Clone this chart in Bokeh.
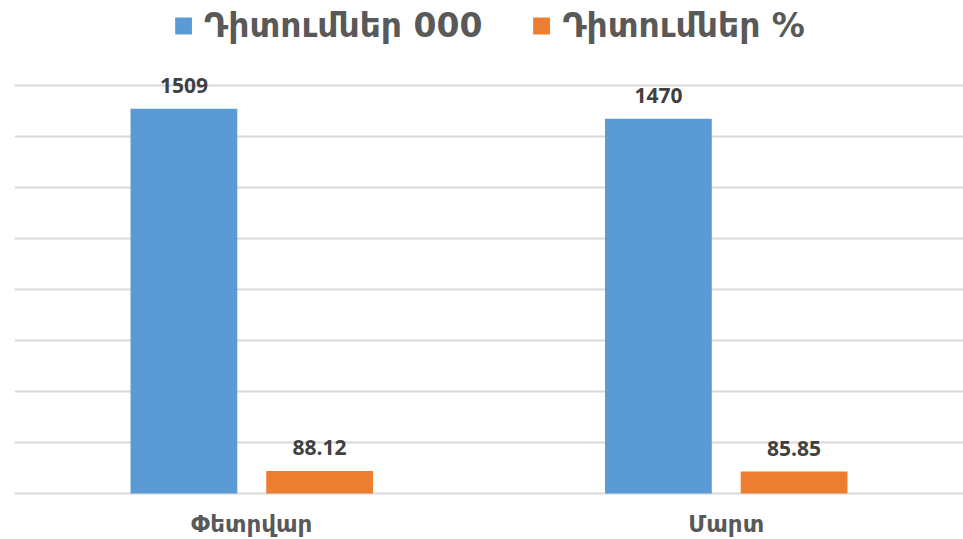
from bokeh.plotting import figure
from bokeh.models import ColumnDataSource, Range1d, FactorRange, FixedTicker, LabelSet, Legend
from bokeh.core.properties import value
from bokeh.transform import dodge
from bokeh.embed import file_html
from bokeh.resources import INLINE

categories = ["Փետրվար", "Մարտ"]
series_names = ["Դիտումներ 000", "Դիտումներ %"]
views_000 = [1509, 1470]
views_pct = [88.12, 85.85]
y_ticks = [0, 200, 400, 600, 800, 1000, 1200, 1400, 1600]

BLUE = "#5B9BD5"
ORANGE = "#ED7D31"

src = ColumnDataSource(dict(
    cat=categories,
    a=views_000,
    b=views_pct,
    a_lbl=[f"{v:g}" for v in views_000],
    b_lbl=[f"{v:g}" for v in views_pct],
))

p = figure(frame_width=949, frame_height=495, output_backend="svg", toolbar_location=None,
           x_range=FactorRange(factors=categories, range_padding=0),
           y_range=Range1d(-7.84, 1933.3), y_axis_location=None,
           min_border_left=14, min_border_right=0, min_border_top=0, min_border_bottom=0)
p.outline_line_color = None
p.background_fill_color = "white"
p.border_fill_color = "white"

off = 0.143
bw = 0.225
r1 = p.vbar(x=dodge("cat", -off, range=p.x_range), top="a", width=bw, source=src,
            fill_color=BLUE, line_color=None)
r2 = p.vbar(x=dodge("cat", off, range=p.x_range), top="b", width=bw, source=src,
            fill_color=ORANGE, line_color=None)

p.xgrid.grid_line_color = None
p.ygrid.ticker = FixedTicker(ticks=y_ticks)
p.ygrid.grid_line_color = "#D9D9D9"
p.ygrid.grid_line_width = 1.8
p.ygrid.level = "underlay"

ax = p.xaxis[0]
ax.axis_line_color = None
ax.major_tick_line_color = None
ax.minor_tick_line_color = None
ax.major_tick_in = 0
ax.major_tick_out = 0
ax.major_label_standoff = 15
ax.major_label_text_font = "DejaVu Sans"
ax.major_label_text_font_style = "bold"
ax.major_label_text_font_size = "23px"
ax.major_label_text_color = "#595959"

for col, lbl, o in (("a", "a_lbl", -off), ("b", "b_lbl", off)):
    ls = LabelSet(x=dodge("cat", o, range=p.x_range), y=col, text=lbl, source=src,
                  text_align="center", text_baseline="alphabetic", y_offset=16,
                  text_font=value("Open Sans"), text_font_style="bold", text_font_size="21px",
                  text_color="#404040")
    p.add_layout(ls)

legend = Legend(items=[(series_names[0], [r1]), (series_names[1], [r2])],
                orientation="horizontal", location="top_center",
                border_line_color=None, background_fill_alpha=0,
                glyph_width=21, glyph_height=21, label_standoff=11, spacing=48,
                margin=6, padding=2,
                label_text_font="DejaVu Sans", label_text_font_style="bold",
                label_text_font_size="33px", label_text_color="#595959")
p.add_layout(legend)

open("out.html", "w").write(file_html(p, INLINE))
